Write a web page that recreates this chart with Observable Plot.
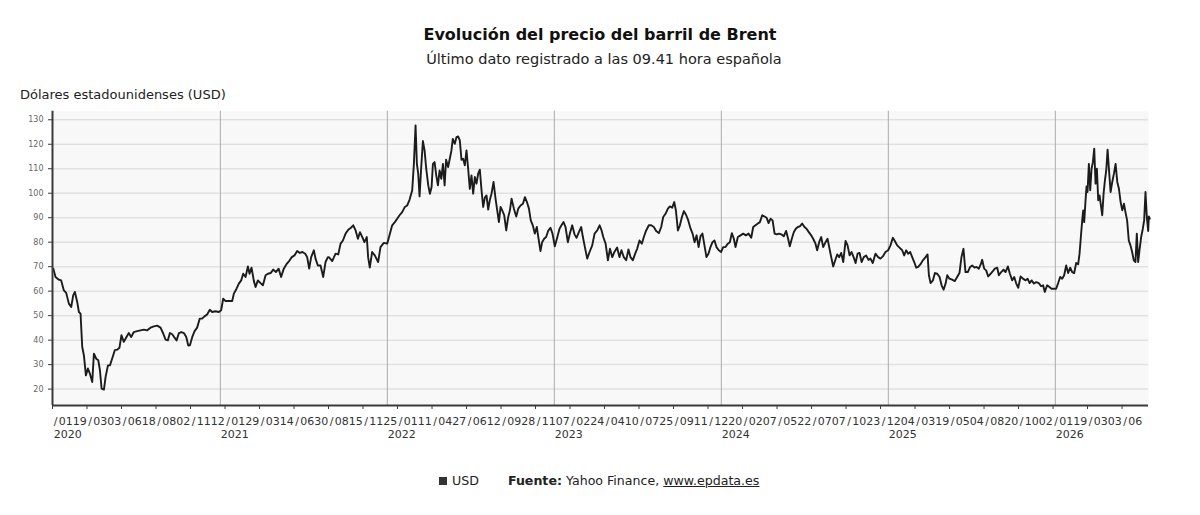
<!DOCTYPE html>
<html><head><meta charset="utf-8">
<script src="https://cdn.jsdelivr.net/npm/d3@7"></script>
<script src="https://cdn.jsdelivr.net/npm/@observablehq/plot@0.6"></script>
<style>
body{margin:0;background:#fff;width:1200px;height:515px;position:relative;overflow:hidden;font-family:"DejaVu Sans",sans-serif;}
.t{position:absolute;white-space:nowrap;line-height:1;}
#title{left:0;width:1200px;text-align:center;top:26.5px;font-size:16px;font-weight:bold;color:#111;}
#subtitle{left:4px;width:1200px;text-align:center;top:51.7px;font-size:14.5px;color:#222;}
#ylabel{left:20px;top:88px;font-size:13px;color:#222;}
#legend{left:439px;top:475.3px;font-size:12.6px;color:#222;}
#legend .sq{display:inline-block;width:8px;height:8px;background:#333;margin-right:5px;}
#legend .src{margin-left:29px;}
#legend a{color:#222;text-decoration:underline;}
#chart{position:absolute;left:0;top:0;}
</style></head><body>
<div id="chart"></div>
<div class="t" id="title">Evolución del precio del barril de Brent</div>
<div class="t" id="subtitle">Último dato registrado a las 09.41 hora española</div>
<div class="t" id="ylabel">Dólares estadounidenses (USD)</div>
<div class="t" id="legend"><span class="sq"></span>USD<span class="src"><b>Fuente:</b> Yahoo Finance, <a>www.epdata.es</a></span></div>
<script>
const startYear = 2020;
// elapsed years since 1 Jan 2020
const elapsed = [
0.000,0.013,0.033,0.047,0.063,0.077,0.093,0.107,0.119,0.129,0.143,0.153,0.163,0.173,0.183,0.195,0.207,0.219,0.233,0.243,
0.257,0.269,0.279,0.289,0.303,0.313,0.327,0.339,0.352,0.368,0.382,0.396,0.408,0.422,0.438,0.452,0.466,0.482,0.502,0.522,
0.542,0.562,0.582,0.602,0.622,0.642,0.658,0.672,0.686,0.698,0.712,0.726,0.738,0.752,0.766,0.782,0.796,0.808,0.818,0.832,
0.846,0.861,0.877,0.891,0.905,0.921,0.937,0.951,0.971,0.991,1.005,1.017,1.031,1.051,1.071,1.081,1.097,1.111,1.125,1.137,
1.151,1.165,1.175,1.187,1.201,1.211,1.225,1.241,1.255,1.271,1.285,1.301,1.317,1.333,1.349,1.364,1.380,1.396,1.412,1.428,
1.444,1.460,1.476,1.492,1.508,1.520,1.532,1.544,1.560,1.570,1.584,1.600,1.616,1.630,1.644,
1.650,1.670,1.690,1.706,1.720,1.734,1.750,1.766,1.782,1.796,1.810,1.824,1.836,1.850,1.863,1.877,1.885,1.895,1.909,1.925,
1.945,1.959,1.979,1.999,2.013,2.029,2.045,2.059,2.073,2.089,2.105,2.119,2.133,2.149,2.159,2.169,2.177,2.185,2.193,2.203,
2.213,2.223,2.233,2.245,2.255,2.265,2.273,2.283,2.293,2.303,2.313,2.323,2.333,2.343,2.352,2.364,2.374,2.384,2.392,2.404,
2.414,2.424,2.434,2.444,2.454,2.464,2.474,2.484,2.494,2.504,2.514,2.524,2.534,2.544,2.554,2.564,2.574,2.584,2.594,2.604,
2.614,2.624,2.636,2.648,2.658,2.668,2.678,2.688,2.700,2.712,2.724,2.734,2.744,2.758,2.772,2.784,2.798,2.812,2.824,2.836,
2.848,2.859,2.871,2.883,2.895,2.907,2.917,2.927,2.939,2.951,2.963,2.977,2.989,3.003,3.017,3.031,3.043,3.055,3.067,3.081,
3.093,3.107,3.121,3.133,3.147,3.161,3.171,3.183,3.197,3.211,3.227,3.241,3.257,3.271,3.283,
3.293,3.307,3.321,3.333,3.347,3.360,3.376,3.390,3.402,3.416,3.430,3.444,3.456,3.470,3.484,3.496,3.510,3.524,3.536,3.550,
3.566,3.580,3.596,3.610,3.626,3.640,3.652,3.666,3.680,3.692,3.706,3.718,3.728,3.740,3.752,3.764,3.776,3.790,3.802,3.816,
3.828,3.840,3.852,3.864,3.875,3.887,3.899,3.911,3.923,3.935,3.947,3.959,3.971,3.985,3.999,4.011,4.025,4.039,4.051,4.063,
4.075,4.085,4.099,4.115,4.131,4.147,4.163,4.179,4.191,4.205,4.219,4.231,4.245,4.259,4.271,4.283,4.295,4.307,4.319,4.331,
4.345,4.359,4.374,4.388,4.400,4.410,4.422,4.434,4.446,4.458,4.470,4.484,4.498,4.510,4.524,4.538,4.550,4.564,4.574,4.586,
4.598,4.610,4.624,4.636,4.646,4.658,4.670,4.682,4.694,4.706,4.718,4.730,4.744,4.756,4.768,4.780,4.792,4.804,4.816,4.828,
4.840,4.853,4.867,4.881,4.893,4.907,
4.923,4.939,4.953,4.967,4.983,4.999,5.013,5.027,5.039,5.053,5.067,5.083,5.095,5.107,5.119,5.131,5.143,5.155,5.167,5.179,
5.193,5.207,5.223,5.235,5.243,5.253,5.267,5.279,5.293,5.307,5.319,5.331,5.343,5.353,5.366,5.382,5.398,5.412,5.426,5.438,
5.450,5.462,5.476,5.490,5.502,5.516,5.528,5.542,5.554,5.562,5.574,5.586,5.598,5.612,5.626,5.638,5.652,5.662,5.676,5.690,
5.702,5.716,5.728,5.742,5.754,5.766,5.778,5.792,5.806,5.822,5.834,5.846,5.858,5.872,5.885,5.901,5.915,5.927,5.937,5.951,
5.965,5.977,5.991,6.005,6.017,6.029,6.041,6.053,6.065,6.077,6.089,6.101,6.113,6.125,6.137,6.145,6.153,6.161,6.167,6.173,
6.181,6.187,6.193,6.201,6.209,6.217,6.225,6.233,6.241,6.249,6.257,6.265,6.273,6.281,6.289,6.297,6.305,6.313,6.321,6.331,
6.341,6.351,6.361,6.371,6.381,6.391,6.401,6.411,6.420,6.430,6.440,6.450,6.460,6.470,6.480,6.488,6.496,6.504,6.514,6.524,
6.532,6.540,6.548,6.556,6.560,6.566
];
// Brent price, USD per barrel
const usd = [
69.2,65.8,64.7,64.4,60.3,59.3,54.9,53.5,58.3,59.7,55.6,51.5,50.8,37.2,33.8,25.6,28.4,26.3,22.9,34.5,
32.4,31.8,27.7,20.2,19.8,25.0,29.7,29.7,32.4,35.9,36.1,36.9,42.0,39.3,41.3,42.9,41.3,43.3,43.7,44.0,
44.3,44.0,45.1,45.6,45.9,45.1,42.7,40.2,39.9,42.9,42.4,41.0,39.9,42.9,43.3,42.9,41.3,37.8,37.9,41.3,
43.7,45.1,48.8,48.8,49.7,50.5,52.4,51.5,51.8,51.5,52.2,56.9,56.0,56.0,56.0,59.0,61.0,63.1,64.4,67.1,
65.8,70.1,67.1,69.6,64.1,61.7,64.4,63.3,62.4,66.5,67.1,67.4,68.8,67.8,69.2,65.8,69.2,71.0,72.3,73.9,
74.6,76.4,75.6,76.0,75.3,73.9,69.2,73.9,76.7,73.3,70.5,70.5,65.8,71.9,73.9,
73.9,72.3,75.3,75.0,79.4,80.7,83.5,85.1,85.9,86.9,84.8,81.4,84.1,82.1,80.0,82.1,73.9,69.6,76.0,74.6,
71.9,78.0,79.7,79.4,82.8,86.9,88.2,89.6,91.0,92.3,94.4,95.0,97.3,101.2,112.0,127.7,112.0,108.0,98.7,110.7,
121.3,117.5,110.0,103.2,99.8,102.5,112.0,112.7,107.3,103.2,109.3,105.9,112.0,103.2,113.7,110.7,114.1,117.5,122.2,120.2,
122.9,123.2,121.6,113.7,114.1,111.4,117.5,110.0,101.8,107.3,99.8,106.6,103.9,108.0,109.6,101.2,94.4,98.2,99.1,93.3,
97.3,99.8,104.6,97.8,93.0,88.2,94.4,93.0,91.0,84.8,90.3,93.0,97.8,93.7,90.5,93.7,95.0,95.7,98.4,96.4,
93.7,88.9,86.9,83.5,86.2,80.7,76.4,80.0,81.4,82.1,84.6,85.9,83.5,78.3,81.8,85.5,86.9,88.2,86.2,80.0,
83.5,86.9,83.2,81.8,84.1,86.2,82.1,78.0,73.3,76.0,78.7,83.5,84.8,86.9,84.8,
82.1,79.4,72.6,77.3,73.9,76.0,77.8,73.9,76.7,73.9,72.6,77.0,73.9,72.6,75.3,77.3,80.7,79.4,82.1,84.8,
86.9,86.9,86.2,84.6,83.7,86.2,90.3,91.6,93.7,94.6,94.1,96.4,93.0,84.8,86.9,90.3,92.7,91.0,88.9,85.5,
83.5,80.0,82.8,78.0,82.4,83.5,78.7,73.9,75.3,78.0,80.0,80.7,78.0,76.7,76.0,78.0,78.0,79.4,80.0,83.7,
81.4,78.0,82.1,82.8,83.5,82.8,83.5,81.8,86.2,86.9,87.6,88.2,91.0,90.5,90.0,87.8,89.6,88.9,83.5,83.2,
83.5,83.2,82.4,84.6,81.4,78.3,81.4,84.1,85.5,86.2,86.5,87.6,86.2,85.5,84.1,82.8,81.4,79.4,76.7,80.0,
82.1,78.0,80.0,81.4,78.0,73.9,70.1,72.6,75.0,73.9,75.6,71.9,80.5,78.7,74.6,76.0,73.9,71.5,75.3,75.6,
71.9,73.9,74.6,72.8,73.3,71.5,
75.3,73.9,73.3,74.2,76.0,76.7,78.7,81.8,80.5,78.7,77.8,76.7,74.6,76.7,75.3,76.0,73.9,71.9,69.6,69.9,
71.0,72.6,73.9,75.0,66.5,63.3,64.4,67.4,67.1,65.8,62.4,60.6,63.1,66.5,65.1,64.7,64.1,65.8,67.4,73.9,
77.3,67.8,67.8,69.9,70.5,69.6,69.9,69.2,71.0,72.8,69.2,68.5,66.0,67.1,68.2,69.2,69.6,66.5,67.8,68.8,
67.8,70.1,67.1,64.4,65.8,63.1,61.4,66.0,65.1,64.4,65.1,63.3,64.4,63.1,63.7,63.3,62.0,62.4,59.7,62.4,
61.7,61.0,61.0,61.0,63.3,65.8,65.1,66.5,70.5,67.4,69.6,67.8,67.4,71.5,71.0,75.3,82.1,88.9,93.0,88.2,
97.1,102.8,100.5,112.0,101.2,110.0,112.7,118.2,103.9,110.0,97.1,99.1,95.0,91.0,99.8,105.2,109.3,117.8,110.0,100.5,
104.6,108.0,112.0,104.6,101.8,96.4,93.0,95.7,92.3,88.9,80.7,78.7,76.0,72.6,71.9,83.5,71.9,76.7,82.1,85.5,
88.9,100.5,90.3,84.6,90.5,89.6
];
const yTicks = [20, 30, 40, 50, 60, 70, 80, 90, 100, 110, 120, 130];
const yearTicks = [2020, 2021, 2022, 2023, 2024, 2025, 2026];
const tickLabels = [
"0119","0303","0618","0802","1112",
"0129","0314","0630","0815","1125",
"0111","0427","0612","0928","1107",
"0224","0410","0725","0911","1220",
"0207","0522","0707","1023","1204",
"0319","0504","0820","1002",
"0119","0303","06"
];
const xDomain = [2019.995, 2026.558];
const yDomain = [13.3, 133.5];
const tickStep = 0.2066; // the category axis puts a tick every ~0.21 year
const tickVals = tickLabels.map((_, i) => xDomain[0] + i * tickStep);

const data = elapsed.map((e, i) => ({year: startYear + e, usd: usd[i]}));
const font = "DejaVu Sans";

const chart = Plot.plot({
  width: 1200,
  height: 450,
  marginLeft: 52,
  marginRight: 52,
  marginTop: 110.7,
  marginBottom: 45,
  x: {type: "linear", domain: xDomain, axis: null},
  y: {domain: yDomain, axis: null},
  style: {background: "transparent", fontFamily: font, overflow: "visible"},
  marks: [
    Plot.frame({fill: "#f8f8f8", stroke: "none"}),
    Plot.ruleY(yTicks, {stroke: "#e1e1e1", strokeWidth: 1.5}),
    Plot.ruleX(yearTicks.slice(1), {stroke: "#ababab", strokeWidth: 1}),
    Plot.line(data, {x: "year", y: "usd", stroke: "#1c1c1c", strokeWidth: 1.9, strokeLinejoin: "round"}),
    Plot.ruleX([xDomain[0]], {stroke: "#3a3a3a", strokeWidth: 2}),
    Plot.ruleY([yDomain[0]], {stroke: "#3a3a3a", strokeWidth: 2}),
    Plot.axisY({ticks: yTicks, tickSize: 4, tickFormat: () => "", stroke: "#3a3a3a", label: null}),
    Plot.axisY({ticks: yTicks, tickSize: 0, tickPadding: 9, fontSize: 8, fontFamily: font, fill: "#666", label: null}),
    Plot.axisX({ticks: tickVals, tickSize: 4, tickFormat: () => "", stroke: "#3a3a3a", label: null}),
    // slash separator and date digits of each category tick label
    Plot.text(tickLabels, {
      x: (d, i) => tickVals[i], text: () => "/", frameAnchor: "bottom", lineAnchor: "top",
      textAnchor: "middle", dx: 3, dy: 12, fontSize: 11, fontFamily: font, fill: "#333"
    }),
    Plot.text(tickLabels, {
      x: (d, i) => tickVals[i], text: d => d, frameAnchor: "bottom", lineAnchor: "top",
      textAnchor: "start", dx: 6.25, dy: 12, fontSize: 11, fontFamily: font, fill: "#333"
    }),
    Plot.text(yearTicks, {
      x: d => d, text: d => String(d), frameAnchor: "bottom", lineAnchor: "top",
      textAnchor: "start", dx: 0.5, dy: 24.3, fontSize: 11, fontFamily: font, fill: "#333"
    })
  ]
});
document.getElementById("chart").appendChild(chart);
</script>
</body></html>
